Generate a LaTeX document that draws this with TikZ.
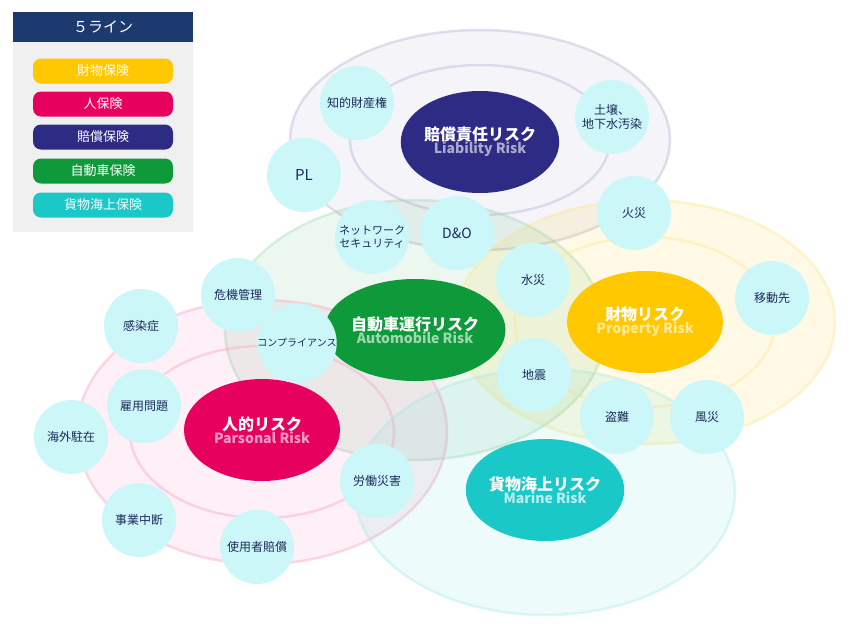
\documentclass[tikz,border=0pt]{standalone}
\usepackage{fontspec}
\setmainfont{Noto Sans CJK JP}
\begin{document}
\begin{tikzpicture}[x=1pt,y=-1pt,
  every node/.style={font=\fontsize{12}{14}\selectfont},
  pill/.style={rounded corners=8pt,minimum width=140pt,minimum height=25pt,text=white,inner sep=0pt,font=\fontsize{13}{15}\selectfont},
  risk/.style={ellipse,minimum width=156pt,minimum height=102pt,inner sep=0pt,align=center},
  small/.style={circle,fill=cbub,minimum size=74pt,inner sep=0pt,align=center,text=navy,font=\fontsize{12}{14}\selectfont},
  ring/.style={draw=#1,opacity=0.35,line width=2.5pt},
]
\usetikzlibrary{shapes.geometric}
\definecolor{cyel}{HTML}{FFC800}
\definecolor{cpink}{HTML}{E8005F}
\definecolor{cind}{HTML}{2E2B85}
\definecolor{cgrn}{HTML}{0E9A3A}
\definecolor{ccyan}{HTML}{1AC8C8}
\definecolor{cbub}{HTML}{CCF7F8}
\definecolor{navy}{HTML}{1C2A5A}
\definecolor{hdr}{HTML}{1C3A6E}
\useasboundingbox (0,0) rectangle (850,630);
% big ellipses
\fill[cind,opacity=0.05] (480,140) ellipse [x radius=190,y radius=110];
\draw[ring=cind!40] (480,140) ellipse [x radius=190,y radius=110];
\draw[ring=cind!40] (480,140) ellipse [x radius=130,y radius=75];
\fill[cgrn,opacity=0.08] (415,330) ellipse [x radius=190,y radius=130];
\draw[ring=cgrn!40] (415,330) ellipse [x radius=190,y radius=130];
\fill[cyel,opacity=0.10] (645,322) ellipse [x radius=190,y radius=122];
\draw[ring=cyel!50] (645,322) ellipse [x radius=190,y radius=122];
\draw[ring=cyel!50] (645,322) ellipse [x radius=130,y radius=85];
\fill[cpink,opacity=0.06] (262,432) ellipse [x radius=185,y radius=132];
\draw[ring=cpink!40] (262,432) ellipse [x radius=185,y radius=132];
\draw[ring=cpink!40] (262,432) ellipse [x radius=132,y radius=86];
\fill[ccyan,opacity=0.08] (545,492) ellipse [x radius=190,y radius=123];
\draw[ring=ccyan!40] (545,492) ellipse [x radius=190,y radius=123];
% legend
\fill[gray!12] (13,12) rectangle (193,232);
\node[fill=hdr,minimum width=180pt,minimum height=30pt,anchor=north west,inner sep=0pt,text=white,font=\fontsize{15}{17}\selectfont] (hd) at (13,12) {５ライン};
\node[pill,fill=cyel] (l1) at (103,71) {財物保険};
\node[pill,fill=cpink] (l2) at (103,104) {人保険};
\node[pill,fill=cind] (l3) at (103,137) {賠償保険};
\node[pill,fill=cgrn] (l4) at (103,171) {自動車保険};
\node[pill,fill=ccyan] (l5) at (103,205) {貨物海上保険};
% main risks
\node[risk,fill=cind] (lia) at (480,142) {\fontsize{16}{20}\selectfont\bfseries\color{white}賠償責任リスク\\[-1pt]\fontsize{14}{18}\selectfont\bfseries\color{white!60!cind}Liability Risk};
\node[risk,fill=cgrn] (aut) at (415,330) {\fontsize{16}{20}\selectfont\bfseries\color{white}自動車運行リスク\\[-1pt]\fontsize{14}{18}\selectfont\bfseries\color{white!60!cgrn}Automobile Risk};
\node[risk,fill=cyel] (pro) at (645,322) {\fontsize{16}{20}\selectfont\bfseries\color{white}財物リスク\\[-1pt]\fontsize{14}{18}\selectfont\bfseries\color{white!60!cyel}Property Risk};
\node[risk,fill=cpink] (per) at (262,430) {\fontsize{16}{20}\selectfont\bfseries\color{white}人的リスク\\[-1pt]\fontsize{14}{18}\selectfont\bfseries\color{white!60!cpink}Parsonal Risk};
\node[risk,fill=ccyan] (mar) at (545,490) {\fontsize{16}{20}\selectfont\bfseries\color{white}貨物海上リスク\\[-1pt]\fontsize{14}{18}\selectfont\bfseries\color{white!70!ccyan}Marine Risk};
% small bubbles
\node[small] (s1) at (357,103) {知的財産権};
\node[small] (s2) at (612,117) {土壌、\\地下水汚染};
\node[small,font=\fontsize{15}{17}\selectfont] (s3) at (304,175) {PL};
\node[small,font=\fontsize{11}{13}\selectfont] (s4) at (372,237) {ネットワーク\\セキュリティ};
\node[small,font=\fontsize{14}{16}\selectfont] (s5) at (457,233) {D\&O};
\node[small] (s6) at (634,213) {火災};
\node[small] (s7) at (533,280) {水災};
\node[small] (s8) at (772,298) {移動先};
\node[small] (s9) at (238,295) {危機管理};
\node[small] (s10) at (141,326) {感染症};
\node[small,font=\fontsize{10}{12}\selectfont] (s11) at (297,343) {コンプライアンス};
\node[small] (s12) at (534,375) {地震};
\node[small] (s13) at (617,417) {盗難};
\node[small] (s14) at (707,417) {風災};
\node[small] (s15) at (144,406) {雇用問題};
\node[small] (s16) at (71,437) {海外駐在};
\node[small] (s17) at (377,481) {労働災害};
\node[small] (s18) at (139,520) {事業中断};
\node[small] (s19) at (257,547) {使用者賠償};
\end{tikzpicture}
\end{document}
